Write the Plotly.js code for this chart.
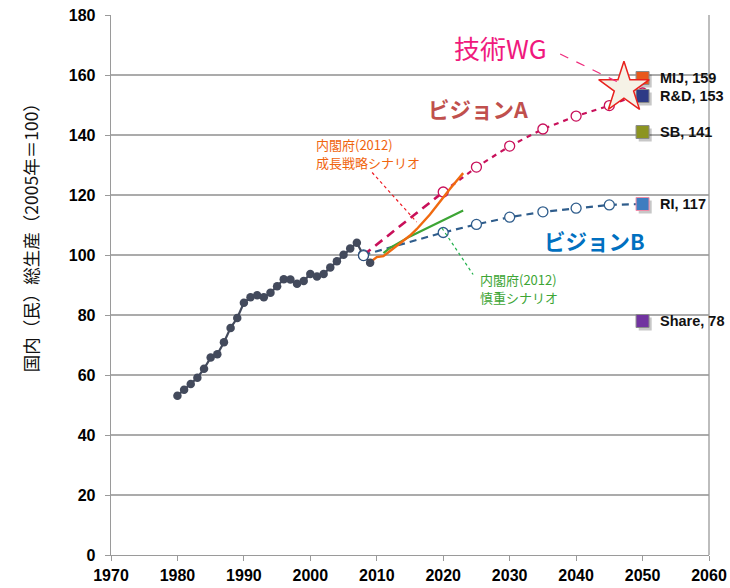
<!DOCTYPE html>
<html><head><meta charset="utf-8">
<script src="https://cdn.plot.ly/plotly-3.0.1.min.js"></script>
<style>body{margin:0;background:#fff}#c{width:730px;height:588px}</style>
</head><body><div id="c"></div>
<script>
// Historical GDP index (2005=100)
const histYears = [1980,1981,1982,1983,1984,1985,1986,1987,1988,1989,1990,1991,1992,1993,1994,1995,1996,1997,1998,1999,2000,2001,2002,2003,2004,2005,2006,2007,2008,2009];
const histVals  = [53.1,55.1,57.0,59.1,62.1,65.8,66.9,70.9,75.7,79.0,84.1,85.9,86.6,85.9,87.4,89.6,91.9,91.8,90.4,91.3,93.7,92.8,93.7,95.8,97.9,100.1,102.2,104.1,99.8,97.4];

// Vision A
const visAdashYears = [2008,2020];
const visAdashVals  = [100.0,121.0];
const visAYears = [2020,2025,2030,2035,2040,2045,2050];
const visAVals  = [121.0,129.3,136.3,142.0,146.3,149.8,154.0];
// Vision B
const visBYears = [2008,2020,2025,2030,2035,2040,2045,2050];
const visBVals  = [100.0,107.5,110.2,112.6,114.4,115.6,116.7,117.0];

// Cabinet Office (2012) growth strategy scenario
const growthYears = [2009,2010,2011,2012,2013,2014,2015,2016,2017,2018,2019,2020,2021,2022,2023];
const growthVals  = [97.6,99.3,99.6,101.3,103.0,104.6,106.5,108.6,110.9,113.5,116.3,119.3,122.0,124.7,127.3];
// Cabinet Office (2012) cautious scenario
const cautYears = [2011,2012,2015,2020,2023];
const cautVals  = [100.6,102.4,106.2,111.6,114.8];

// Technology WG target
const wgYear = [2047.2];
const wgVal  = [155.7];

// Other targets at 2050
const tgtNames  = ["MIJ","R&D","SB","RI","Share"];
const tgtYears  = [2050,2050,2050,2050,2050];
const tgtVals   = [159,153,141,117,78];
const tgtColors = ["#E8581C","#2E3B86","#8C9421","#3E7DC0","#7133A0"];
const tgtLines  = ["#8a8a8a","#8a8a8a","#8a8a8a","#F08CA8","#8a8a8a"];

const JP = "Noto Sans CJK JP";
const traces = [
  {x:visBYears, y:visBVals, mode:'lines+markers', line:{color:'#2F5D8C', width:2.2, dash:'7px,5px'},
   marker:{symbol:'circle', size:10, color:'#ffffff', line:{color:'#2F5D8C', width:1.3}}, hoverinfo:'skip'},
  {x:visAdashYears, y:visAdashVals, mode:'lines', line:{color:'#C8105A', width:2.6, dash:'9px,6px'}, hoverinfo:'skip'},
  {x:visAYears, y:visAVals, mode:'lines+markers', line:{color:'#C8105A', width:2.2, dash:'5px,5px'},
   marker:{symbol:'circle', size:10, color:'#ffffff', line:{color:'#C8105A', width:1.3}}, hoverinfo:'skip'},
  {x:cautYears, y:cautVals, mode:'lines', line:{color:'#3DA535', width:2.2}, hoverinfo:'skip'},
  {x:growthYears, y:growthVals, mode:'lines', line:{color:'#F06A10', width:2.4}, hoverinfo:'skip'},
  {x:histYears, y:histVals, mode:'lines+markers', line:{color:'#434A5C', width:2.2},
   marker:{size:8.5, color:'#434A5C'}, hoverinfo:'skip'},
  {x:[histYears[histYears.length-2]], y:[histVals[histVals.length-2]], mode:'markers',
   marker:{size:10, color:'#ffffff', line:{color:'#2F4F7A', width:1.3}}, hoverinfo:'skip'},
  // shadows
  {x:tgtYears.map(v=>v+0.4), y:tgtVals.map(v=>v-1.0), mode:'markers',
   marker:{symbol:'square', size:13, color:'rgba(0,0,0,0.22)'}, hoverinfo:'skip', cliponaxis:false},
  {x:tgtYears, y:tgtVals, mode:'markers',
   marker:{symbol:'square', size:13, color:tgtColors, line:{color:tgtLines, width:1}}, hoverinfo:'skip', cliponaxis:false},
  {x:wgYear, y:wgVal, mode:'markers', marker:{symbol:'star', size:38, color:'#F5F2E6', line:{color:'#E8221E', width:1.5}},
   hoverinfo:'skip', cliponaxis:false}
];

const tgtAnn = tgtNames.map((n,i)=>({x:tgtYears[i], y:tgtVals[i], text:'<b>'+n+', '+tgtVals[i]+'</b>', showarrow:false,
  xanchor:'left', xshift:15, font:{family:'Liberation Sans', size:14.5, color:'#111'}}));

const layout = {
  width:730, height:588, showlegend:false,
  margin:{l:111, r:21, t:15, b:33},
  paper_bgcolor:'#fff', plot_bgcolor:'#fff',
  font:{family:'Liberation Sans', color:'#000'},
  xaxis:{range:[1970,2060], tickvals:[1970,1980,1990,2000,2010,2020,2030,2040,2050,2060],
    showgrid:false, zeroline:false, showline:true, linecolor:'#9a9a9a', linewidth:1.3,
    ticks:'outside', ticklen:5, tickcolor:'#9a9a9a',
    tickfont:{family:'Liberation Sans', size:16, color:'#000', weight:'bold'}},
  yaxis:{range:[0,180], dtick:20, showgrid:true, gridcolor:'#ABABAB', gridwidth:1.2, zeroline:false,
    showline:true, linecolor:'#9a9a9a', linewidth:1.3, ticks:'outside', ticklen:5, tickcolor:'#9a9a9a',
    ticklabelstandoff:6,
    tickfont:{family:'Liberation Sans', size:16, color:'#000', weight:'bold'}},
  shapes:[
    {type:'line', xref:'paper', yref:'paper', x0:1, x1:1, y0:0, y1:1, line:{color:'#9a9a9a', width:1.3}},
    {type:'line', x0:2037.6, y0:167, x1:2046.6, y1:157.3, line:{color:'#EE2A7B', width:1.2, dash:'dash'}},
    {type:'line', x0:2009.3, y0:127.5, x1:2016, y1:111, line:{color:'#EE1C25', width:1.2, dash:'dot'}},
    {type:'line', x0:2019.8, y0:109, x1:2024.5, y1:93.5, line:{color:'#22B14C', width:1.2, dash:'dot'}}
  ],
  annotations:[
    {xref:'paper', yref:'paper', x:-0.1355, y:0.596, textangle:-90, text:'国内（民）総生産（2005年＝100）',
     showarrow:false, xanchor:'center', yanchor:'middle', font:{family:JP, size:17.5, color:'#111'}},
    {x:2028.6, y:169.3, text:'技術WG', showarrow:false, font:{family:JP, size:26, color:'#F0197D'}},
    {x:2025.3, y:149, text:'<b>ビジョンA</b>', showarrow:false, font:{family:JP, size:21.5, color:'#C0504D'}},
    {x:2042.7, y:105, text:'<b>ビジョンB</b>', showarrow:false, font:{family:JP, size:21.5, color:'#0070C0'}},
    {x:2000.6, y:136.7, xanchor:'left', text:'内閣府(2012)', showarrow:false, font:{family:JP, size:13, color:'#F0650E'}},
    {x:2000.6, y:130.7, xanchor:'left', text:'成長戦略シナリオ', showarrow:false, font:{family:JP, size:13, color:'#F0650E'}},
    {x:2025.2, y:91.7, xanchor:'left', text:'内閣府(2012)', showarrow:false, font:{family:JP, size:13, color:'#3DA535'}},
    {x:2025.2, y:85.7, xanchor:'left', text:'慎重シナリオ', showarrow:false, font:{family:JP, size:13, color:'#3DA535'}}
  ].concat(tgtAnn)
};
Plotly.newPlot('c', traces, layout, {displayModeBar:false, staticPlot:true});
</script></body></html>
